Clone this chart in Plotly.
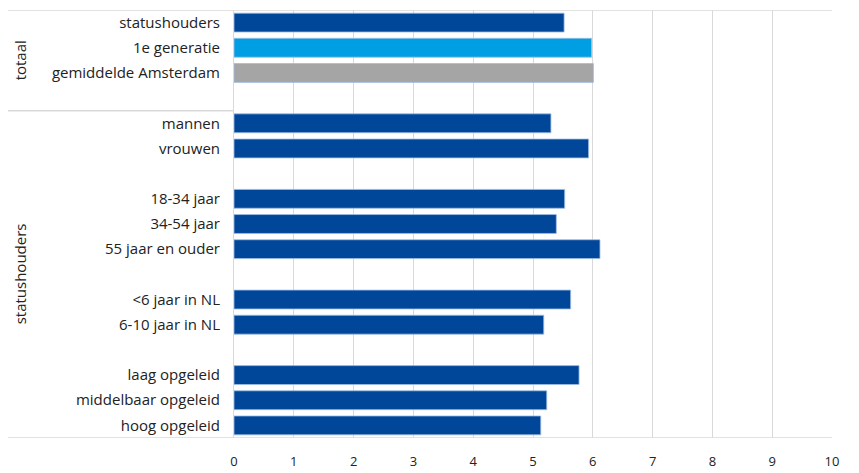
import plotly.graph_objects as go

labels = ["statushouders", "1e generatie", "gemiddelde Amsterdam", "",
          "mannen", "vrouwen", "",
          "18-34 jaar", "34-54 jaar", "55 jaar en ouder", "",
          "<6 jaar in NL", "6-10 jaar in NL", "",
          "laag opgeleid", "middelbaar opgeleid", "hoog opgeleid"]
values = [5.52, 5.98, 6.01, None,
          5.30, 5.93, None,
          5.53, 5.39, 6.12, None,
          5.63, 5.18, None,
          5.77, 5.23, 5.13]
DARK = "#004699"
LIGHT = "#009FE3"
GRAY = "#A5A5A5"
colors = [DARK, LIGHT, GRAY] + [DARK] * (len(labels) - 3)
x_ticks = list(range(0, 11))

pos = list(range(len(labels)))
xs = [v for v in values if v is not None]
ys = [p for p, v in zip(pos, values) if v is not None]
cs = [c for c, v in zip(colors, values) if v is not None]

fig = go.Figure(go.Bar(
    x=xs, y=ys, orientation="h", width=0.75,
    marker=dict(color=cs, line=dict(color="rgba(160,190,230,0.8)", width=1)),
    hoverinfo="x",
))

GRID = "#D9D9D9"
font = dict(family="Open Sans", size=15, color="#222222")

# page body has an 8px margin; shrink figure so plot area lands where the reference has it
fig.update_layout(
    width=851, height=465,
    margin=dict(l=226, r=27, t=2, b=35),
    plot_bgcolor="white", paper_bgcolor="white",
    font=font, showlegend=False, bargap=0.25,
    xaxis=dict(range=[0, 10], tickvals=x_ticks, ticktext=[str(t) for t in x_ticks],
               showgrid=True, gridcolor=GRID, gridwidth=1,
               zeroline=False, showline=False, ticks="", ticklabelstandoff=14,
               tickfont=dict(size=13)),
    yaxis=dict(range=[len(labels) - 0.5, -0.5], tickvals=pos, ticktext=labels,
               showgrid=False, zeroline=False, showline=True, linecolor=GRID,
               linewidth=1, ticks="", ticklabelstandoff=10, automargin=False),
)

x0 = -227 / 598
line = dict(color=GRID, width=1.5)
fig.add_shape(type="line", xref="paper", yref="y", x0=x0, x1=1, y0=-0.5, y1=-0.5, line=line)
fig.add_shape(type="line", xref="paper", yref="y", x0=x0, x1=0, y0=3.5, y1=3.5, line=line)
fig.add_shape(type="line", xref="paper", yref="y", x0=x0, x1=1,
              y0=len(labels) - 0.5, y1=len(labels) - 0.5, line=line)

fig.add_annotation(text="totaal", xref="paper", yref="y", x=-214 / 598, y=1.5,
                   xanchor="center", textangle=-90, showarrow=False, font=font)
fig.add_annotation(text="statushouders", xref="paper", yref="y", x=-214 / 598, y=10,
                   xanchor="center", textangle=-90, showarrow=False, font=font)

fig.write_html("out.html")
